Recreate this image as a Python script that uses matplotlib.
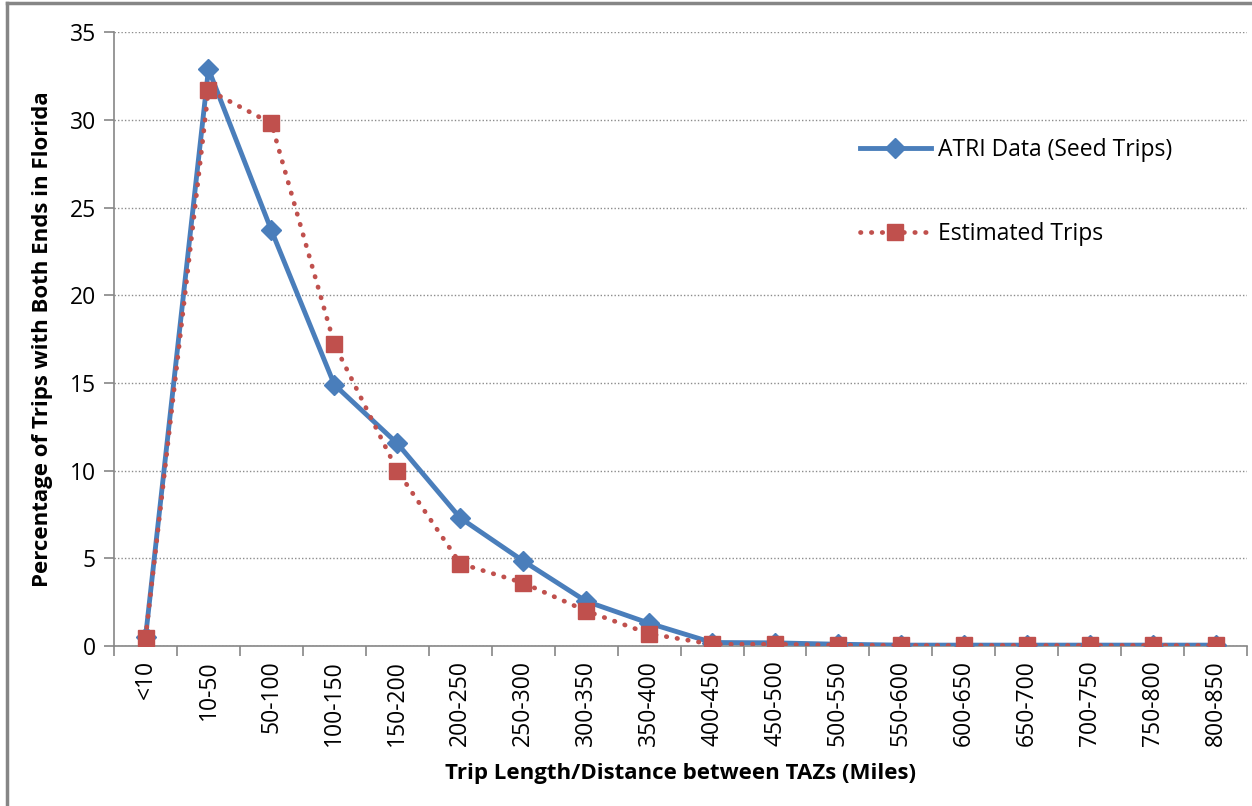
import numpy as np
import matplotlib
matplotlib.use('Agg')
import matplotlib.pyplot as plt
from matplotlib.lines import Line2D

plt.rcParams['font.family'] = ['Open Sans', 'DejaVu Sans']

# Trip length bins (miles)
categories = ['<10', '10-50', '50-100', '100-150', '150-200', '200-250', '250-300',
              '300-350', '350-400', '400-450', '450-500', '500-550', '550-600',
              '600-650', '650-700', '700-750', '750-800', '800-850']

# Percentage of trips with both ends in Florida
atri_seed = [0.5, 32.9, 23.7, 14.9, 11.55, 7.3, 4.85, 2.55, 1.3, 0.2, 0.18, 0.1,
             0.05, 0.05, 0.05, 0.05, 0.05, 0.05]
estimated = [0.45, 31.7, 29.8, 17.2, 10.0, 4.7, 3.6, 2.0, 0.7, 0.1, 0.1, 0.05,
             0.03, 0.03, 0.03, 0.03, 0.03, 0.03]

blue = '#4A7EBB'
red = '#C0504D'
grey = '#868686'

fig = plt.figure(figsize=(12.52, 8.06), dpi=100)
ax = fig.add_axes([0.0911, 0.1985, 0.905, 0.7615])

x = np.arange(len(categories))
ax.plot(x, atri_seed, color=blue, lw=3.5, marker='D', ms=10,
        label='ATRI Data (Seed Trips)', zorder=3)
ax.plot(x, estimated, color=red, lw=3.4, linestyle=(0, (0.1, 2.2)),
        dash_capstyle='round', marker='s', ms=11, label='Estimated Trips', zorder=4)

ax.set_xlim(-0.5, len(categories) - 0.5)
ax.set_ylim(0, 35)
ax.set_yticks(range(0, 36, 5))
ax.set_xticks(x)
ax.set_xticklabels(categories, rotation=90, fontsize=16.5)
ax.set_xticks(np.arange(-0.5, len(categories), 1), minor=True)
ax.tick_params(axis='x', which='major', length=0, pad=10)
ax.tick_params(axis='x', which='minor', length=7, color=grey, width=1.2)
ax.tick_params(axis='y', length=7, color=grey, width=1.2, labelsize=16.5, pad=6)

ax.grid(axis='y', color='#8c8c8c', linestyle=(0, (1, 1.5)), lw=1)
ax.set_axisbelow(True)
for s in ['top', 'right']:
    ax.spines[s].set_visible(False)
for s in ['left', 'bottom']:
    ax.spines[s].set_color(grey)
    ax.spines[s].set_linewidth(1.2)

ax.set_xlabel('Trip Length/Distance between TAZs (Miles)', fontsize=16,
              fontweight='bold', labelpad=12)
ax.set_ylabel('Percentage of Trips with Both Ends in Florida', fontsize=16,
              fontweight='bold', labelpad=12)

ax.legend(loc='upper left', bbox_to_anchor=(0.64, 0.862), frameon=False,
          fontsize=16.5, handlelength=3.1, labelspacing=2.62, handletextpad=0.3)

# outer chart frame (partly cropped in the original)
fig.add_artist(Line2D([0.0056, 1], [0.9963, 0.9963], color=grey, lw=2.5))
fig.add_artist(Line2D([0.0056, 0.0056], [0, 0.9963], color=grey, lw=2.5))

fig.savefig('out.png', dpi=100)
